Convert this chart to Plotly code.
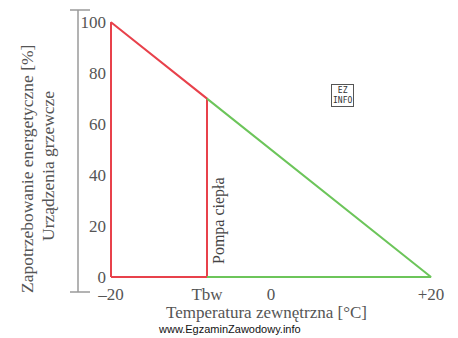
import plotly.graph_objects as go

# data
t_min, t_bw, t_max = -20, -8, 20
red_x = [-20, -20, -8, -8, -20]
red_y = [0, 100, 70, 0, 0]
green_x = [-8, 20, -8]
green_y = [70, 0, 0]
xtick_vals = [-20, -8, 0, 20]
xtick_text = ["\u201320", "Tbw", "0", "+20"]
ytick_vals = [0, 20, 40, 60, 80, 100]

RED = "#e8414b"
GREEN = "#6cc55a"
GRAY = "#9a9a9a"
TXT = "#555555"
SERIF = "Liberation Serif, Times New Roman, serif"

fig = go.Figure()
fig.add_trace(go.Scatter(x=red_x, y=red_y, mode="lines",
                         line=dict(color=RED, width=2), showlegend=False))
fig.add_trace(go.Scatter(x=green_x, y=green_y, mode="lines",
                         line=dict(color=GREEN, width=2), showlegend=False))

L, R, T, B = 107, 19, 12, 56
fig.update_layout(
    width=458, height=338,
    margin=dict(l=L, r=R, t=T, b=B),
    plot_bgcolor="white", paper_bgcolor="white",
    xaxis=dict(range=[-20.5, 21], tickvals=xtick_vals, ticktext=xtick_text,
               showgrid=False, zeroline=False, showline=False,
               tickfont=dict(family=SERIF, size=17, color=TXT), ticklen=0),
    yaxis=dict(range=[-2, 104], tickvals=ytick_vals,
               showgrid=False, zeroline=False, showline=False,
               tickfont=dict(family=SERIF, size=17, color=TXT), ticklen=0),
)

pw = 458 - L - R
ph = 338 - T - B
def px(x):
    return (x - L) / pw
def py(y):
    return (338 - B - y) / ph

# gray vertical axis line with end ticks
fig.add_shape(type="line", xref="paper", yref="paper", x0=px(78), x1=px(78),
              y0=py(10), y1=py(292), line=dict(color=GRAY, width=1.5))
for yy in (10, 292):
    fig.add_shape(type="line", xref="paper", yref="paper", x0=px(70), x1=px(90),
                  y0=py(yy), y1=py(yy), line=dict(color=GRAY, width=1.5))

def ann(x, y, text, **kw):
    fig.add_annotation(xref="paper", yref="paper", x=px(x), y=py(y), text=text,
                       showarrow=False, xanchor="center", yanchor="middle", **kw)

# x title
ann(266, 312, "Temperatura zewnętrzna [°C]", font=dict(family=SERIF, size=17, color=TXT))

# y title (two lines)
ann(27, 169, "Zapotrzebowanie energetyczne [%]", textangle=-90,
    font=dict(family=SERIF, size=17.5, color=TXT))
ann(48, 166, "Urządzenia grzewcze", textangle=-90,
    font=dict(family=SERIF, size=17.5, color=TXT))

# Pompa ciepła
ann(219, 221, "Pompa ciepła", textangle=-90,
    font=dict(family=SERIF, size=16, color="#444444"))

# EZ INFO logo
ann(342, 95, "EZ<br>INFO", font=dict(family="DejaVu Sans Mono", size=8, color="#333333"),
    bordercolor="#555555", borderwidth=1, borderpad=1)

# watermark
ann(229, 329, "www.EgzaminZawodowy.info",
    font=dict(family="Liberation Sans, Arial, sans-serif", size=11, color="#111111"))

fig.write_html("out.html")
